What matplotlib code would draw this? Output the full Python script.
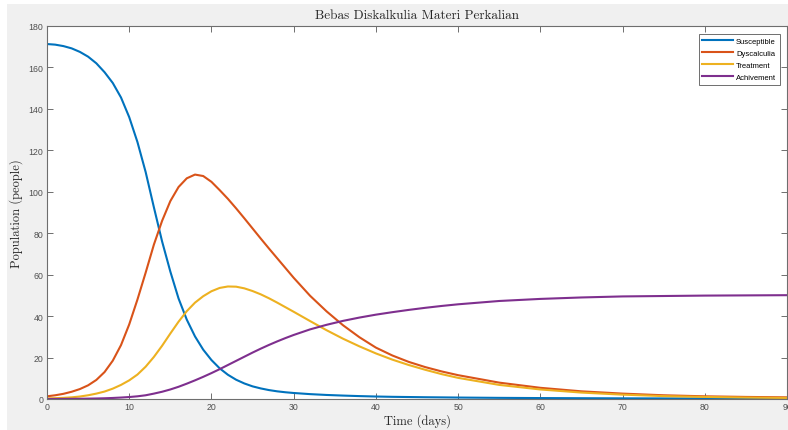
import matplotlib
matplotlib.use("Agg")
import matplotlib.pyplot as plt
from matplotlib.patches import Rectangle

# values
t = list(range(0, 31)) + list(range(32, 51, 2)) + list(range(55, 91, 5))
susceptible = [171.3, 171.0, 170.3, 169.2, 167.5, 165.2, 162.0, 157.7, 152.5, 145.5,
               136.0, 124.0, 109.5, 92.5, 76.0, 61.5, 48.5, 38.3, 30.2, 23.8,
               18.8, 14.8, 11.7, 9.3, 7.5, 6.1, 5.1, 4.3, 3.7, 3.25, 2.9,
               2.35, 1.95, 1.65, 1.4, 1.2, 1.05, 0.95, 0.85, 0.78, 0.7,
               0.55, 0.45, 0.38, 0.32, 0.28, 0.25, 0.22, 0.2]
dyscalculia = [1.3, 1.8, 2.5, 3.5, 4.8, 6.6, 9.2, 13.0, 18.5, 26.0,
               36.0, 48.0, 61.0, 74.5, 86.0, 95.5, 102.3, 106.5, 108.3, 107.6,
               104.8, 100.8, 96.6, 92.0, 87.2, 82.3, 77.4, 72.6, 67.9, 63.2, 58.5,
               49.8, 42.3, 35.6, 29.8, 24.8, 21.0, 17.9, 15.4, 13.3, 11.5,
               7.9, 5.4, 3.7, 2.6, 1.8, 1.3, 1.0, 0.8]
treatment = [0.3, 0.4, 0.55, 0.8, 1.2, 1.8, 2.6, 3.6, 5.0, 6.8,
             9.0, 11.8, 15.6, 20.3, 25.7, 31.6, 37.3, 42.4, 46.5, 49.6,
             52.0, 53.6, 54.3, 54.2, 53.4, 52.1, 50.5, 48.6, 46.5, 44.3, 42.1,
             37.6, 33.2, 29.1, 25.4, 22.0, 19.0, 16.4, 14.1, 12.0, 10.2,
             6.8, 4.6, 3.1, 2.1, 1.4, 1.0, 0.7, 0.5]
achivement = [0.0, 0.02, 0.05, 0.08, 0.12, 0.18, 0.25, 0.35, 0.5, 0.7,
              0.95, 1.3, 1.8, 2.6, 3.5, 4.6, 5.9, 7.4, 9.0, 10.7,
              12.5, 14.4, 16.4, 18.4, 20.4, 22.4, 24.3, 26.1, 27.8, 29.4, 30.9,
              33.6, 35.8, 37.7, 39.3, 40.7, 41.9, 43.0, 44.0, 44.9, 45.7,
              47.3, 48.3, 49.0, 49.5, 49.7, 49.9, 50.0, 50.1]

SERIES = [
    ("Susceptible", susceptible, "#0072BD"),
    ("Dyscalculia", dyscalculia, "#D95319"),
    ("Treatment", treatment, "#EDB120"),
    ("Achivement", achivement, "#7E2F8E"),
]
xticks = list(range(0, 91, 10))
yticks = list(range(0, 181, 20))

W, H = 788, 431
fig = plt.figure(figsize=(W / 100, H / 100), dpi=100)
fig.patch.set_facecolor("white")
# grey MATLAB-style figure area with a thin white border top/left
fig.patches.append(Rectangle((7 / W, 0), 1, 1 - 5 / H, transform=fig.transFigure,
                             facecolor="#f0f0f0", edgecolor="none", zorder=-10))

ax = fig.add_axes([47 / W, 31 / H, 740 / W, 373 / H])
for label, vals, color in SERIES:
    ax.plot(t, vals, color=color, lw=1.5, label=label)

ax.set_xlim(0, 90)
ax.set_ylim(0, 180)
ax.set_xticks(xticks)
ax.set_yticks(yticks)
ax.tick_params(direction="in", length=4, width=0.7, color="#6e6e6e",
               top=True, right=True, labelsize=6.3, labelcolor="#505050", pad=2.5)
for lab in ax.get_xticklabels() + ax.get_yticklabels():
    lab.set_fontfamily("Liberation Sans")
for s in ax.spines.values():
    s.set_color("#6e6e6e")
    s.set_linewidth(0.8)

ax.set_title("Bebas Diskalkulia Materi Perkalian", family="cmr10", fontsize=9.5,
             color="#262626", pad=6)
ax.set_xlabel("Time (days)", family="cmr10", fontsize=9, color="#262626", labelpad=1.5)
ax.set_ylabel("Population (people)", family="cmr10", fontsize=9, color="#262626",
              labelpad=4)

leg = ax.legend(loc="upper right", bbox_to_anchor=(0.9905, 0.9786), borderaxespad=0,
                fancybox=False, framealpha=1, edgecolor="#6e6e6e",
                prop={"family": "Liberation Sans", "size": 5.5},
                handlelength=4.0, handletextpad=0.4, labelspacing=0.6,
                borderpad=0.5)
leg.get_frame().set_linewidth(0.7)

fig.savefig("out.png", dpi=100, facecolor=fig.get_facecolor())
